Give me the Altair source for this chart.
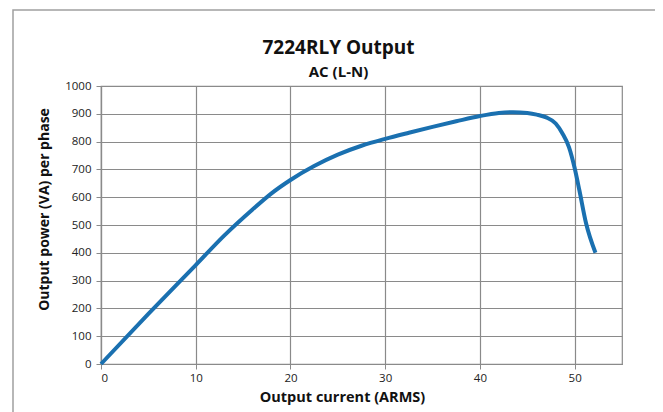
import altair as alt
import pandas as pd

# Data
current_arms = [0, 5, 10, 13, 16, 18, 20, 22.5, 25, 27.5, 30, 32.5,
                35, 37.5, 40, 42, 43.5, 45, 46, 47, 48, 48.7, 49.4, 50, 50.5, 51.2, 52.2]
power_va = [0, 180, 356, 462, 556, 614, 662, 712, 753, 785, 810, 832,
            853, 873, 892, 903, 906, 903, 897, 887, 865, 830, 780, 705, 625, 507, 400]

x_ticks = [0, 10, 20, 30, 40, 50]
y_ticks = list(range(0, 1001, 100))

df = pd.DataFrame({"current": current_arms, "power": power_va})

FONT = "Open Sans"
GRID = "#8a8a8a"

line = alt.Chart(df).mark_line(
    color="#1a70b0", strokeWidth=4, interpolate="monotone"
).encode(
    x=alt.X("current:Q",
            scale=alt.Scale(domain=[0, 55], nice=False),
            axis=alt.Axis(values=x_ticks, title="Output current (ARMS)",
                          grid=True, gridColor=GRID, domainColor=GRID,
                          tickColor=GRID, tickSize=5, labelPadding=3,
                          labelFont=FONT, labelFontSize=11.5, labelColor="#222",
                          titleFont=FONT, titleFontSize=14.5, titleFontWeight="bold",
                          titleColor="#111", titlePadding=7, titleX=241)),
    y=alt.Y("power:Q",
            scale=alt.Scale(domain=[0, 1000], nice=False),
            axis=alt.Axis(values=y_ticks, title="Output power (VA) per phase",
                          format="d",
                          grid=True, gridColor=GRID, domainColor=GRID,
                          tickColor=GRID, tickSize=5, labelPadding=5,
                          labelFont=FONT, labelFontSize=11.5, labelColor="#222",
                          titleFont=FONT, titleFontSize=14, titleFontWeight="bold",
                          titleColor="#111", titlePadding=13, titleY=123)),
)

frame = alt.Chart(pd.DataFrame({"a": [0]})).mark_rect(
    fill=None, stroke="#a0a0a0", strokeWidth=1.5
).encode(
    x=alt.value(-88), x2=alt.value(559),
    y=alt.value(-76), y2=alt.value(340)
)

chart = alt.layer(frame, line).properties(
    width=521,
    height=278,
    title=alt.TitleParams(
        text="7224RLY Output", subtitle="AC (L-N)",
        font=FONT, fontSize=19, fontWeight="bold", color="#111",
        subtitleFont=FONT, subtitleFontSize=15, subtitleFontWeight="bold",
        subtitleColor="#111", anchor="middle", dx=-23, dy=79, offset=8,
        subtitlePadding=7),
    autosize=alt.AutoSizeParams(type="none"),
    padding={"left": 93, "top": 78, "right": 33, "bottom": 48},
).configure_view(stroke=GRID, strokeWidth=1.2).configure_axis(gridWidth=1.2, domainWidth=1.2)

chart.save("out.html", embed_options={"renderer": "svg", "actions": False})
